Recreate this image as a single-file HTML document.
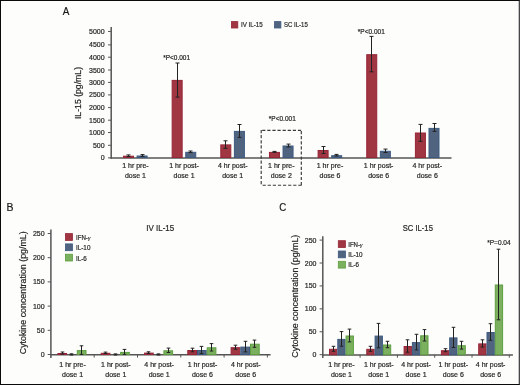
<!DOCTYPE html>
<html><head><meta charset="utf-8"><style>
html,body{margin:0;padding:0;background:#fdfdfb;}
body{width:520px;height:385px;overflow:hidden;position:relative;}
svg{position:absolute;left:0;top:0;font-family:"Liberation Sans", sans-serif;will-change:transform;}
text{stroke:#262626;stroke-width:0.2px;}
#frame{position:absolute;left:0;top:0;width:520px;height:385px;box-sizing:border-box;border-top:1px solid #0a0a0a;border-left:1px solid #0a0a0a;border-bottom:1px solid #0a0a0a;border-right:1px solid #474747;}
#fr2{position:absolute;left:518px;top:1px;width:1px;height:383px;background:#c4c4c4;}
</style></head><body>
<svg width="520" height="385" viewBox="0 0 520 385">
<line x1="111.20" y1="27.00" x2="111.20" y2="158.70" stroke="#555555" stroke-width="1.5"/>
<line x1="108.00" y1="157.90" x2="111.20" y2="157.90" stroke="#555555" stroke-width="1.0"/>
<text x="104.60" y="160.40" font-size="7" text-anchor="end" fill="#262626">0</text>
<line x1="108.00" y1="145.30" x2="111.20" y2="145.30" stroke="#555555" stroke-width="1.0"/>
<text x="104.60" y="147.80" font-size="7" text-anchor="end" fill="#262626">500</text>
<line x1="108.00" y1="132.50" x2="111.20" y2="132.50" stroke="#555555" stroke-width="1.0"/>
<text x="104.60" y="135.00" font-size="7" text-anchor="end" fill="#262626">1000</text>
<line x1="108.00" y1="120.20" x2="111.20" y2="120.20" stroke="#555555" stroke-width="1.0"/>
<text x="104.60" y="122.70" font-size="7" text-anchor="end" fill="#262626">1500</text>
<line x1="108.00" y1="107.60" x2="111.20" y2="107.60" stroke="#555555" stroke-width="1.0"/>
<text x="104.60" y="110.10" font-size="7" text-anchor="end" fill="#262626">2000</text>
<line x1="108.00" y1="94.90" x2="111.20" y2="94.90" stroke="#555555" stroke-width="1.0"/>
<text x="104.60" y="97.40" font-size="7" text-anchor="end" fill="#262626">2500</text>
<line x1="108.00" y1="82.40" x2="111.20" y2="82.40" stroke="#555555" stroke-width="1.0"/>
<text x="104.60" y="84.90" font-size="7" text-anchor="end" fill="#262626">3000</text>
<line x1="108.00" y1="70.00" x2="111.20" y2="70.00" stroke="#555555" stroke-width="1.0"/>
<text x="104.60" y="72.50" font-size="7" text-anchor="end" fill="#262626">3500</text>
<line x1="108.00" y1="57.20" x2="111.20" y2="57.20" stroke="#555555" stroke-width="1.0"/>
<text x="104.60" y="59.70" font-size="7" text-anchor="end" fill="#262626">4000</text>
<line x1="108.00" y1="44.90" x2="111.20" y2="44.90" stroke="#555555" stroke-width="1.0"/>
<text x="104.60" y="47.40" font-size="7" text-anchor="end" fill="#262626">4500</text>
<line x1="108.00" y1="31.45" x2="111.20" y2="31.45" stroke="#555555" stroke-width="1.0"/>
<text x="104.60" y="33.95" font-size="7" text-anchor="end" fill="#262626">5000</text>
<line x1="110.50" y1="158.00" x2="451.50" y2="158.00" stroke="#555555" stroke-width="1.5"/>
<rect x="123.50" y="156.20" width="10.00" height="1.30" fill="#a03642" stroke="#962538" stroke-width="1"/>
<rect x="137.10" y="156.00" width="10.00" height="1.50" fill="#506480" stroke="#3d5a82" stroke-width="1"/>
<line x1="128.50" y1="154.90" x2="128.50" y2="156.50" stroke="#222222" stroke-width="1.0"/>
<line x1="126.50" y1="154.90" x2="130.50" y2="154.90" stroke="#222222" stroke-width="1.0"/>
<line x1="126.50" y1="156.50" x2="130.50" y2="156.50" stroke="#222222" stroke-width="1.0"/>
<line x1="142.50" y1="154.60" x2="142.50" y2="156.40" stroke="#222222" stroke-width="1.0"/>
<line x1="140.50" y1="154.60" x2="144.50" y2="154.60" stroke="#222222" stroke-width="1.0"/>
<line x1="140.50" y1="156.40" x2="144.50" y2="156.40" stroke="#222222" stroke-width="1.0"/>
<rect x="172.15" y="80.40" width="10.00" height="77.10" fill="#a03642" stroke="#962538" stroke-width="1"/>
<rect x="185.75" y="152.30" width="10.00" height="5.20" fill="#506480" stroke="#3d5a82" stroke-width="1"/>
<line x1="177.50" y1="63.00" x2="177.50" y2="97.10" stroke="#222222" stroke-width="1.0"/>
<line x1="175.50" y1="63.00" x2="179.50" y2="63.00" stroke="#222222" stroke-width="1.0"/>
<line x1="175.50" y1="97.10" x2="179.50" y2="97.10" stroke="#222222" stroke-width="1.0"/>
<line x1="190.50" y1="151.00" x2="190.50" y2="152.60" stroke="#222222" stroke-width="1.0"/>
<line x1="188.50" y1="151.00" x2="192.50" y2="151.00" stroke="#222222" stroke-width="1.0"/>
<line x1="188.50" y1="152.60" x2="192.50" y2="152.60" stroke="#222222" stroke-width="1.0"/>
<rect x="220.80" y="144.90" width="10.00" height="12.60" fill="#a03642" stroke="#962538" stroke-width="1"/>
<rect x="234.40" y="131.40" width="10.00" height="26.10" fill="#506480" stroke="#3d5a82" stroke-width="1"/>
<line x1="225.50" y1="140.80" x2="225.50" y2="148.30" stroke="#222222" stroke-width="1.0"/>
<line x1="223.50" y1="140.80" x2="227.50" y2="140.80" stroke="#222222" stroke-width="1.0"/>
<line x1="223.50" y1="148.30" x2="227.50" y2="148.30" stroke="#222222" stroke-width="1.0"/>
<line x1="239.50" y1="124.50" x2="239.50" y2="137.40" stroke="#222222" stroke-width="1.0"/>
<line x1="237.50" y1="124.50" x2="241.50" y2="124.50" stroke="#222222" stroke-width="1.0"/>
<line x1="237.50" y1="137.40" x2="241.50" y2="137.40" stroke="#222222" stroke-width="1.0"/>
<rect x="269.45" y="152.40" width="10.00" height="5.10" fill="#a03642" stroke="#962538" stroke-width="1"/>
<rect x="283.05" y="146.00" width="10.00" height="11.50" fill="#506480" stroke="#3d5a82" stroke-width="1"/>
<line x1="274.50" y1="151.40" x2="274.50" y2="152.40" stroke="#222222" stroke-width="1.0"/>
<line x1="272.50" y1="151.40" x2="276.50" y2="151.40" stroke="#222222" stroke-width="1.0"/>
<line x1="272.50" y1="152.40" x2="276.50" y2="152.40" stroke="#222222" stroke-width="1.0"/>
<line x1="288.50" y1="144.10" x2="288.50" y2="147.00" stroke="#222222" stroke-width="1.0"/>
<line x1="286.50" y1="144.10" x2="290.50" y2="144.10" stroke="#222222" stroke-width="1.0"/>
<line x1="286.50" y1="147.00" x2="290.50" y2="147.00" stroke="#222222" stroke-width="1.0"/>
<rect x="318.10" y="150.50" width="10.00" height="7.00" fill="#a03642" stroke="#962538" stroke-width="1"/>
<rect x="331.70" y="155.70" width="10.00" height="1.80" fill="#506480" stroke="#3d5a82" stroke-width="1"/>
<line x1="323.50" y1="146.50" x2="323.50" y2="153.50" stroke="#222222" stroke-width="1.0"/>
<line x1="321.50" y1="146.50" x2="325.50" y2="146.50" stroke="#222222" stroke-width="1.0"/>
<line x1="321.50" y1="153.50" x2="325.50" y2="153.50" stroke="#222222" stroke-width="1.0"/>
<line x1="336.50" y1="154.40" x2="336.50" y2="156.00" stroke="#222222" stroke-width="1.0"/>
<line x1="334.50" y1="154.40" x2="338.50" y2="154.40" stroke="#222222" stroke-width="1.0"/>
<line x1="334.50" y1="156.00" x2="338.50" y2="156.00" stroke="#222222" stroke-width="1.0"/>
<rect x="366.75" y="54.70" width="10.00" height="102.80" fill="#a03642" stroke="#962538" stroke-width="1"/>
<rect x="380.35" y="151.30" width="10.00" height="6.20" fill="#506480" stroke="#3d5a82" stroke-width="1"/>
<line x1="371.50" y1="36.40" x2="371.50" y2="71.80" stroke="#222222" stroke-width="1.0"/>
<line x1="369.50" y1="36.40" x2="373.50" y2="36.40" stroke="#222222" stroke-width="1.0"/>
<line x1="369.50" y1="71.80" x2="373.50" y2="71.80" stroke="#222222" stroke-width="1.0"/>
<line x1="385.50" y1="149.10" x2="385.50" y2="152.50" stroke="#222222" stroke-width="1.0"/>
<line x1="383.50" y1="149.10" x2="387.50" y2="149.10" stroke="#222222" stroke-width="1.0"/>
<line x1="383.50" y1="152.50" x2="387.50" y2="152.50" stroke="#222222" stroke-width="1.0"/>
<rect x="415.40" y="133.00" width="10.00" height="24.50" fill="#a03642" stroke="#962538" stroke-width="1"/>
<rect x="429.00" y="128.40" width="10.00" height="29.10" fill="#506480" stroke="#3d5a82" stroke-width="1"/>
<line x1="420.50" y1="124.40" x2="420.50" y2="141.30" stroke="#222222" stroke-width="1.0"/>
<line x1="418.50" y1="124.40" x2="422.50" y2="124.40" stroke="#222222" stroke-width="1.0"/>
<line x1="418.50" y1="141.30" x2="422.50" y2="141.30" stroke="#222222" stroke-width="1.0"/>
<line x1="434.50" y1="123.50" x2="434.50" y2="131.40" stroke="#222222" stroke-width="1.0"/>
<line x1="432.50" y1="123.50" x2="436.50" y2="123.50" stroke="#222222" stroke-width="1.0"/>
<line x1="432.50" y1="131.40" x2="436.50" y2="131.40" stroke="#222222" stroke-width="1.0"/>
<text x="135.40" y="168.10" font-size="7" text-anchor="middle" fill="#262626">1 hr pre-</text>
<text x="135.40" y="177.60" font-size="7" text-anchor="middle" fill="#262626">dose 1</text>
<text x="184.05" y="168.10" font-size="7" text-anchor="middle" fill="#262626">1 hr post-</text>
<text x="184.05" y="177.60" font-size="7" text-anchor="middle" fill="#262626">dose 1</text>
<text x="232.70" y="168.10" font-size="7" text-anchor="middle" fill="#262626">4 hr post-</text>
<text x="232.70" y="177.60" font-size="7" text-anchor="middle" fill="#262626">dose 1</text>
<text x="281.35" y="168.10" font-size="7" text-anchor="middle" fill="#262626">1 hr pre-</text>
<text x="281.35" y="177.60" font-size="7" text-anchor="middle" fill="#262626">dose 2</text>
<text x="330.00" y="168.10" font-size="7" text-anchor="middle" fill="#262626">1 hr pre-</text>
<text x="330.00" y="177.60" font-size="7" text-anchor="middle" fill="#262626">dose 6</text>
<text x="378.65" y="168.10" font-size="7" text-anchor="middle" fill="#262626">1 hr post-</text>
<text x="378.65" y="177.60" font-size="7" text-anchor="middle" fill="#262626">dose 6</text>
<text x="427.30" y="168.10" font-size="7" text-anchor="middle" fill="#262626">4 hr post-</text>
<text x="427.30" y="177.60" font-size="7" text-anchor="middle" fill="#262626">dose 6</text>
<text x="176.60" y="60.30" font-size="6.5" text-anchor="middle" fill="#262626">*P&lt;0.001</text>
<text x="282.30" y="120.80" font-size="6.5" text-anchor="middle" fill="#262626">*P&lt;0.001</text>
<text x="371.30" y="33.70" font-size="6.5" text-anchor="middle" fill="#262626">*P&lt;0.001</text>
<line x1="262.2" y1="130.3" x2="302.1" y2="130.3" stroke="#3a3a3a" stroke-width="1.15" stroke-dasharray="3.2 1.9"/>
<line x1="261.2" y1="130.0" x2="261.2" y2="185.6" stroke="#3a3a3a" stroke-width="1.15" stroke-dasharray="3.2 1.9"/>
<line x1="262.6" y1="185.2" x2="302.0" y2="185.2" stroke="#3a3a3a" stroke-width="1.15" stroke-dasharray="3.2 1.9"/>
<line x1="301.3" y1="131.0" x2="301.3" y2="185.6" stroke="#3a3a3a" stroke-width="1.15" stroke-dasharray="3.2 1.9"/>
<rect x="231.4" y="21.6" width="6.4" height="6.4" fill="#a03642" stroke="#962538" stroke-width="0.8"/>
<text x="241.00" y="27.30" font-size="7" text-anchor="start" fill="#262626" textLength="21.7" lengthAdjust="spacingAndGlyphs">IV IL-15</text>
<rect x="274.5" y="21.6" width="6.4" height="6.4" fill="#506480" stroke="#3d5a82" stroke-width="0.8"/>
<text x="284.00" y="27.30" font-size="7" text-anchor="start" fill="#262626" textLength="23.8" lengthAdjust="spacingAndGlyphs">SC IL-15</text>
<text x="62.80" y="14.80" font-size="11" text-anchor="start" fill="#111" textLength="6.6" lengthAdjust="spacingAndGlyphs">A</text>
<text transform="translate(81.4,93) rotate(-90)" x="0" y="0" font-size="8.7" text-anchor="middle" fill="#262626">IL-15 (pg/mL)</text>
<line x1="50.90" y1="229.40" x2="50.90" y2="358.00" stroke="#555555" stroke-width="1.5"/>
<line x1="47.70" y1="354.50" x2="50.90" y2="354.50" stroke="#555555" stroke-width="1.0"/>
<text x="44.60" y="357.00" font-size="7" text-anchor="end" fill="#262626">0</text>
<line x1="47.70" y1="330.30" x2="50.90" y2="330.30" stroke="#555555" stroke-width="1.0"/>
<text x="44.60" y="332.80" font-size="7" text-anchor="end" fill="#262626">50</text>
<line x1="47.70" y1="306.10" x2="50.90" y2="306.10" stroke="#555555" stroke-width="1.0"/>
<text x="44.60" y="308.60" font-size="7" text-anchor="end" fill="#262626">100</text>
<line x1="47.70" y1="281.90" x2="50.90" y2="281.90" stroke="#555555" stroke-width="1.0"/>
<text x="44.60" y="284.40" font-size="7" text-anchor="end" fill="#262626">150</text>
<line x1="47.70" y1="257.70" x2="50.90" y2="257.70" stroke="#555555" stroke-width="1.0"/>
<text x="44.60" y="260.20" font-size="7" text-anchor="end" fill="#262626">200</text>
<line x1="47.70" y1="233.50" x2="50.90" y2="233.50" stroke="#555555" stroke-width="1.0"/>
<text x="44.60" y="236.00" font-size="7" text-anchor="end" fill="#262626">250</text>
<line x1="50.40" y1="354.70" x2="270.60" y2="354.70" stroke="#555555" stroke-width="1.5"/>
<line x1="94.20" y1="354.50" x2="94.20" y2="357.50" stroke="#555555" stroke-width="1.0"/>
<line x1="137.50" y1="354.50" x2="137.50" y2="357.50" stroke="#555555" stroke-width="1.0"/>
<line x1="180.80" y1="354.50" x2="180.80" y2="357.50" stroke="#555555" stroke-width="1.0"/>
<line x1="224.10" y1="354.50" x2="224.10" y2="357.50" stroke="#555555" stroke-width="1.0"/>
<line x1="267.40" y1="354.50" x2="267.40" y2="357.50" stroke="#555555" stroke-width="1.0"/>
<rect x="57.90" y="353.50" width="8.70" height="1.00" fill="#a03642" stroke="#962538" stroke-width="1"/>
<line x1="62.50" y1="352.00" x2="62.50" y2="354.00" stroke="#222222" stroke-width="1.0"/>
<line x1="60.70" y1="352.00" x2="64.30" y2="352.00" stroke="#222222" stroke-width="1.0"/>
<line x1="60.70" y1="354.00" x2="64.30" y2="354.00" stroke="#222222" stroke-width="1.0"/>
<line x1="71.50" y1="353.80" x2="71.50" y2="355.00" stroke="#222222" stroke-width="1.0"/>
<line x1="69.70" y1="353.80" x2="73.30" y2="353.80" stroke="#222222" stroke-width="1.0"/>
<line x1="69.70" y1="355.00" x2="73.30" y2="355.00" stroke="#222222" stroke-width="1.0"/>
<rect x="77.30" y="350.60" width="8.70" height="3.90" fill="#7ab05e" stroke="#5e9e40" stroke-width="1"/>
<line x1="81.50" y1="345.80" x2="81.50" y2="354.40" stroke="#222222" stroke-width="1.0"/>
<line x1="79.70" y1="345.80" x2="83.30" y2="345.80" stroke="#222222" stroke-width="1.0"/>
<line x1="79.70" y1="354.40" x2="83.30" y2="354.40" stroke="#222222" stroke-width="1.0"/>
<rect x="101.20" y="353.30" width="8.70" height="1.20" fill="#a03642" stroke="#962538" stroke-width="1"/>
<line x1="105.50" y1="352.10" x2="105.50" y2="353.50" stroke="#222222" stroke-width="1.0"/>
<line x1="103.70" y1="352.10" x2="107.30" y2="352.10" stroke="#222222" stroke-width="1.0"/>
<line x1="103.70" y1="353.50" x2="107.30" y2="353.50" stroke="#222222" stroke-width="1.0"/>
<line x1="115.50" y1="353.90" x2="115.50" y2="355.00" stroke="#222222" stroke-width="1.0"/>
<line x1="113.70" y1="353.90" x2="117.30" y2="353.90" stroke="#222222" stroke-width="1.0"/>
<line x1="113.70" y1="355.00" x2="117.30" y2="355.00" stroke="#222222" stroke-width="1.0"/>
<rect x="120.60" y="352.40" width="8.70" height="2.10" fill="#7ab05e" stroke="#5e9e40" stroke-width="1"/>
<line x1="124.50" y1="349.40" x2="124.50" y2="354.40" stroke="#222222" stroke-width="1.0"/>
<line x1="122.70" y1="349.40" x2="126.30" y2="349.40" stroke="#222222" stroke-width="1.0"/>
<line x1="122.70" y1="354.40" x2="126.30" y2="354.40" stroke="#222222" stroke-width="1.0"/>
<rect x="144.50" y="353.10" width="8.70" height="1.40" fill="#a03642" stroke="#962538" stroke-width="1"/>
<line x1="148.50" y1="351.80" x2="148.50" y2="353.40" stroke="#222222" stroke-width="1.0"/>
<line x1="146.70" y1="351.80" x2="150.30" y2="351.80" stroke="#222222" stroke-width="1.0"/>
<line x1="146.70" y1="353.40" x2="150.30" y2="353.40" stroke="#222222" stroke-width="1.0"/>
<line x1="158.50" y1="353.90" x2="158.50" y2="355.00" stroke="#222222" stroke-width="1.0"/>
<line x1="156.70" y1="353.90" x2="160.30" y2="353.90" stroke="#222222" stroke-width="1.0"/>
<line x1="156.70" y1="355.00" x2="160.30" y2="355.00" stroke="#222222" stroke-width="1.0"/>
<rect x="163.90" y="350.80" width="8.70" height="3.70" fill="#7ab05e" stroke="#5e9e40" stroke-width="1"/>
<line x1="168.50" y1="348.10" x2="168.50" y2="352.50" stroke="#222222" stroke-width="1.0"/>
<line x1="166.70" y1="348.10" x2="170.30" y2="348.10" stroke="#222222" stroke-width="1.0"/>
<line x1="166.70" y1="352.50" x2="170.30" y2="352.50" stroke="#222222" stroke-width="1.0"/>
<rect x="187.80" y="350.50" width="8.70" height="4.00" fill="#a03642" stroke="#962538" stroke-width="1"/>
<line x1="192.50" y1="348.20" x2="192.50" y2="351.80" stroke="#222222" stroke-width="1.0"/>
<line x1="190.70" y1="348.20" x2="194.30" y2="348.20" stroke="#222222" stroke-width="1.0"/>
<line x1="190.70" y1="351.80" x2="194.30" y2="351.80" stroke="#222222" stroke-width="1.0"/>
<rect x="197.50" y="350.50" width="8.70" height="4.00" fill="#506480" stroke="#3d5a82" stroke-width="1"/>
<line x1="201.50" y1="346.40" x2="201.50" y2="353.60" stroke="#222222" stroke-width="1.0"/>
<line x1="199.70" y1="346.40" x2="203.30" y2="346.40" stroke="#222222" stroke-width="1.0"/>
<line x1="199.70" y1="353.60" x2="203.30" y2="353.60" stroke="#222222" stroke-width="1.0"/>
<rect x="207.20" y="347.80" width="8.70" height="6.70" fill="#7ab05e" stroke="#5e9e40" stroke-width="1"/>
<line x1="211.50" y1="343.60" x2="211.50" y2="351.00" stroke="#222222" stroke-width="1.0"/>
<line x1="209.70" y1="343.60" x2="213.30" y2="343.60" stroke="#222222" stroke-width="1.0"/>
<line x1="209.70" y1="351.00" x2="213.30" y2="351.00" stroke="#222222" stroke-width="1.0"/>
<rect x="231.10" y="347.70" width="8.70" height="6.80" fill="#a03642" stroke="#962538" stroke-width="1"/>
<line x1="235.50" y1="345.20" x2="235.50" y2="349.20" stroke="#222222" stroke-width="1.0"/>
<line x1="233.70" y1="345.20" x2="237.30" y2="345.20" stroke="#222222" stroke-width="1.0"/>
<line x1="233.70" y1="349.20" x2="237.30" y2="349.20" stroke="#222222" stroke-width="1.0"/>
<rect x="240.80" y="347.10" width="8.70" height="7.40" fill="#506480" stroke="#3d5a82" stroke-width="1"/>
<line x1="245.50" y1="341.30" x2="245.50" y2="351.90" stroke="#222222" stroke-width="1.0"/>
<line x1="243.70" y1="341.30" x2="247.30" y2="341.30" stroke="#222222" stroke-width="1.0"/>
<line x1="243.70" y1="351.90" x2="247.30" y2="351.90" stroke="#222222" stroke-width="1.0"/>
<rect x="250.50" y="344.20" width="8.70" height="10.30" fill="#7ab05e" stroke="#5e9e40" stroke-width="1"/>
<line x1="254.50" y1="340.10" x2="254.50" y2="347.30" stroke="#222222" stroke-width="1.0"/>
<line x1="252.70" y1="340.10" x2="256.30" y2="340.10" stroke="#222222" stroke-width="1.0"/>
<line x1="252.70" y1="347.30" x2="256.30" y2="347.30" stroke="#222222" stroke-width="1.0"/>
<text x="72.55" y="367.30" font-size="7" text-anchor="middle" fill="#262626">1 hr pre-</text>
<text x="72.55" y="377.00" font-size="7" text-anchor="middle" fill="#262626">dose 1</text>
<text x="115.85" y="367.30" font-size="7" text-anchor="middle" fill="#262626">1 hr post-</text>
<text x="115.85" y="377.00" font-size="7" text-anchor="middle" fill="#262626">dose 1</text>
<text x="159.15" y="367.30" font-size="7" text-anchor="middle" fill="#262626">4 hr post-</text>
<text x="159.15" y="377.00" font-size="7" text-anchor="middle" fill="#262626">dose 1</text>
<text x="202.45" y="367.30" font-size="7" text-anchor="middle" fill="#262626">1 hr post-</text>
<text x="202.45" y="377.00" font-size="7" text-anchor="middle" fill="#262626">dose 6</text>
<text x="245.75" y="367.30" font-size="7" text-anchor="middle" fill="#262626">4 hr post-</text>
<text x="245.75" y="377.00" font-size="7" text-anchor="middle" fill="#262626">dose 6</text>
<text x="160.25" y="230.70" font-size="8.5" text-anchor="middle" fill="#262626" textLength="27.9" lengthAdjust="spacingAndGlyphs">IV IL-15</text>
<rect x="65.40" y="233.60" width="7.1" height="6.8" fill="#a03642" stroke="#962538" stroke-width="0.8"/>
<text x="76.00" y="239.90" font-size="7" text-anchor="start" fill="#262626" textLength="14.3" lengthAdjust="spacingAndGlyphs">IFN-<tspan font-family="Liberation Serif" font-style="italic">γ</tspan></text>
<rect x="65.40" y="243.90" width="7.1" height="6.8" fill="#506480" stroke="#3d5a82" stroke-width="0.8"/>
<text x="76.00" y="250.20" font-size="7" text-anchor="start" fill="#262626" textLength="14.4" lengthAdjust="spacingAndGlyphs">IL-10</text>
<rect x="65.40" y="254.20" width="7.1" height="6.8" fill="#7ab05e" stroke="#5e9e40" stroke-width="0.8"/>
<text x="76.00" y="260.50" font-size="7" text-anchor="start" fill="#262626" textLength="10.8" lengthAdjust="spacingAndGlyphs">IL-6</text>
<text transform="translate(25.70,292.80) rotate(-90)" x="0" y="0" font-size="8.85" text-anchor="middle" fill="#262626">Cytokine concentration (pg/mL)</text>
<text x="6.40" y="210.80" font-size="11" text-anchor="start" fill="#111" textLength="7.0" lengthAdjust="spacingAndGlyphs">B</text>
<line x1="322.80" y1="236.20" x2="322.80" y2="358.00" stroke="#555555" stroke-width="1.5"/>
<line x1="319.60" y1="354.70" x2="322.80" y2="354.70" stroke="#555555" stroke-width="1.0"/>
<text x="316.50" y="357.20" font-size="7" text-anchor="end" fill="#262626">0</text>
<line x1="319.60" y1="331.78" x2="322.80" y2="331.78" stroke="#555555" stroke-width="1.0"/>
<text x="316.50" y="334.28" font-size="7" text-anchor="end" fill="#262626">50</text>
<line x1="319.60" y1="308.86" x2="322.80" y2="308.86" stroke="#555555" stroke-width="1.0"/>
<text x="316.50" y="311.36" font-size="7" text-anchor="end" fill="#262626">100</text>
<line x1="319.60" y1="285.94" x2="322.80" y2="285.94" stroke="#555555" stroke-width="1.0"/>
<text x="316.50" y="288.44" font-size="7" text-anchor="end" fill="#262626">150</text>
<line x1="319.60" y1="263.02" x2="322.80" y2="263.02" stroke="#555555" stroke-width="1.0"/>
<text x="316.50" y="265.52" font-size="7" text-anchor="end" fill="#262626">200</text>
<line x1="319.60" y1="240.10" x2="322.80" y2="240.10" stroke="#555555" stroke-width="1.0"/>
<text x="316.50" y="242.60" font-size="7" text-anchor="end" fill="#262626">250</text>
<line x1="322.30" y1="354.90" x2="512.90" y2="354.90" stroke="#555555" stroke-width="1.5"/>
<line x1="360.10" y1="354.70" x2="360.10" y2="357.70" stroke="#555555" stroke-width="1.0"/>
<line x1="397.40" y1="354.70" x2="397.40" y2="357.70" stroke="#555555" stroke-width="1.0"/>
<line x1="434.70" y1="354.70" x2="434.70" y2="357.70" stroke="#555555" stroke-width="1.0"/>
<line x1="472.00" y1="354.70" x2="472.00" y2="357.70" stroke="#555555" stroke-width="1.0"/>
<line x1="509.30" y1="354.70" x2="509.30" y2="357.70" stroke="#555555" stroke-width="1.0"/>
<rect x="329.50" y="349.30" width="7.30" height="5.40" fill="#a03642" stroke="#962538" stroke-width="1"/>
<line x1="333.50" y1="346.30" x2="333.50" y2="351.30" stroke="#222222" stroke-width="1.0"/>
<line x1="331.70" y1="346.30" x2="335.30" y2="346.30" stroke="#222222" stroke-width="1.0"/>
<line x1="331.70" y1="351.30" x2="335.30" y2="351.30" stroke="#222222" stroke-width="1.0"/>
<rect x="337.80" y="339.40" width="7.30" height="15.30" fill="#506480" stroke="#3d5a82" stroke-width="1"/>
<line x1="341.50" y1="331.60" x2="341.50" y2="346.20" stroke="#222222" stroke-width="1.0"/>
<line x1="339.70" y1="331.60" x2="343.30" y2="331.60" stroke="#222222" stroke-width="1.0"/>
<line x1="339.70" y1="346.20" x2="343.30" y2="346.20" stroke="#222222" stroke-width="1.0"/>
<rect x="346.10" y="336.00" width="7.30" height="18.70" fill="#7ab05e" stroke="#5e9e40" stroke-width="1"/>
<line x1="349.50" y1="329.10" x2="349.50" y2="341.90" stroke="#222222" stroke-width="1.0"/>
<line x1="347.70" y1="329.10" x2="351.30" y2="329.10" stroke="#222222" stroke-width="1.0"/>
<line x1="347.70" y1="341.90" x2="351.30" y2="341.90" stroke="#222222" stroke-width="1.0"/>
<rect x="366.80" y="349.30" width="7.30" height="5.40" fill="#a03642" stroke="#962538" stroke-width="1"/>
<line x1="370.50" y1="346.30" x2="370.50" y2="351.30" stroke="#222222" stroke-width="1.0"/>
<line x1="368.70" y1="346.30" x2="372.30" y2="346.30" stroke="#222222" stroke-width="1.0"/>
<line x1="368.70" y1="351.30" x2="372.30" y2="351.30" stroke="#222222" stroke-width="1.0"/>
<rect x="375.10" y="336.10" width="7.30" height="18.60" fill="#506480" stroke="#3d5a82" stroke-width="1"/>
<line x1="378.50" y1="323.40" x2="378.50" y2="347.80" stroke="#222222" stroke-width="1.0"/>
<line x1="376.70" y1="323.40" x2="380.30" y2="323.40" stroke="#222222" stroke-width="1.0"/>
<line x1="376.70" y1="347.80" x2="380.30" y2="347.80" stroke="#222222" stroke-width="1.0"/>
<rect x="383.40" y="345.00" width="7.30" height="9.70" fill="#7ab05e" stroke="#5e9e40" stroke-width="1"/>
<line x1="387.50" y1="341.30" x2="387.50" y2="347.70" stroke="#222222" stroke-width="1.0"/>
<line x1="385.70" y1="341.30" x2="389.30" y2="341.30" stroke="#222222" stroke-width="1.0"/>
<line x1="385.70" y1="347.70" x2="389.30" y2="347.70" stroke="#222222" stroke-width="1.0"/>
<rect x="404.10" y="346.50" width="7.30" height="8.20" fill="#a03642" stroke="#962538" stroke-width="1"/>
<line x1="407.50" y1="339.80" x2="407.50" y2="352.20" stroke="#222222" stroke-width="1.0"/>
<line x1="405.70" y1="339.80" x2="409.30" y2="339.80" stroke="#222222" stroke-width="1.0"/>
<line x1="405.70" y1="352.20" x2="409.30" y2="352.20" stroke="#222222" stroke-width="1.0"/>
<rect x="412.40" y="342.60" width="7.30" height="12.10" fill="#506480" stroke="#3d5a82" stroke-width="1"/>
<line x1="416.50" y1="334.30" x2="416.50" y2="349.90" stroke="#222222" stroke-width="1.0"/>
<line x1="414.70" y1="334.30" x2="418.30" y2="334.30" stroke="#222222" stroke-width="1.0"/>
<line x1="414.70" y1="349.90" x2="418.30" y2="349.90" stroke="#222222" stroke-width="1.0"/>
<rect x="420.70" y="335.80" width="7.30" height="18.90" fill="#7ab05e" stroke="#5e9e40" stroke-width="1"/>
<line x1="424.50" y1="329.60" x2="424.50" y2="341.00" stroke="#222222" stroke-width="1.0"/>
<line x1="422.70" y1="329.60" x2="426.30" y2="329.60" stroke="#222222" stroke-width="1.0"/>
<line x1="422.70" y1="341.00" x2="426.30" y2="341.00" stroke="#222222" stroke-width="1.0"/>
<rect x="441.40" y="350.70" width="7.30" height="4.00" fill="#a03642" stroke="#962538" stroke-width="1"/>
<line x1="445.50" y1="348.70" x2="445.50" y2="351.70" stroke="#222222" stroke-width="1.0"/>
<line x1="443.70" y1="348.70" x2="447.30" y2="348.70" stroke="#222222" stroke-width="1.0"/>
<line x1="443.70" y1="351.70" x2="447.30" y2="351.70" stroke="#222222" stroke-width="1.0"/>
<rect x="449.70" y="337.90" width="7.30" height="16.80" fill="#506480" stroke="#3d5a82" stroke-width="1"/>
<line x1="453.50" y1="327.30" x2="453.50" y2="347.50" stroke="#222222" stroke-width="1.0"/>
<line x1="451.70" y1="327.30" x2="455.30" y2="327.30" stroke="#222222" stroke-width="1.0"/>
<line x1="451.70" y1="347.50" x2="455.30" y2="347.50" stroke="#222222" stroke-width="1.0"/>
<rect x="458.00" y="345.70" width="7.30" height="9.00" fill="#7ab05e" stroke="#5e9e40" stroke-width="1"/>
<line x1="461.50" y1="341.30" x2="461.50" y2="349.10" stroke="#222222" stroke-width="1.0"/>
<line x1="459.70" y1="341.30" x2="463.30" y2="341.30" stroke="#222222" stroke-width="1.0"/>
<line x1="459.70" y1="349.10" x2="463.30" y2="349.10" stroke="#222222" stroke-width="1.0"/>
<rect x="478.70" y="343.90" width="7.30" height="10.80" fill="#a03642" stroke="#962538" stroke-width="1"/>
<line x1="482.50" y1="339.80" x2="482.50" y2="347.00" stroke="#222222" stroke-width="1.0"/>
<line x1="480.70" y1="339.80" x2="484.30" y2="339.80" stroke="#222222" stroke-width="1.0"/>
<line x1="480.70" y1="347.00" x2="484.30" y2="347.00" stroke="#222222" stroke-width="1.0"/>
<rect x="487.00" y="332.50" width="7.30" height="22.20" fill="#506480" stroke="#3d5a82" stroke-width="1"/>
<line x1="490.50" y1="323.70" x2="490.50" y2="340.30" stroke="#222222" stroke-width="1.0"/>
<line x1="488.70" y1="323.70" x2="492.30" y2="323.70" stroke="#222222" stroke-width="1.0"/>
<line x1="488.70" y1="340.30" x2="492.30" y2="340.30" stroke="#222222" stroke-width="1.0"/>
<rect x="495.30" y="285.00" width="7.30" height="69.70" fill="#7ab05e" stroke="#5e9e40" stroke-width="1"/>
<line x1="498.50" y1="249.20" x2="498.50" y2="319.80" stroke="#222222" stroke-width="1.0"/>
<line x1="496.70" y1="249.20" x2="500.30" y2="249.20" stroke="#222222" stroke-width="1.0"/>
<line x1="496.70" y1="319.80" x2="500.30" y2="319.80" stroke="#222222" stroke-width="1.0"/>
<text x="341.45" y="367.30" font-size="7" text-anchor="middle" fill="#262626">1 hr pre-</text>
<text x="341.45" y="377.00" font-size="7" text-anchor="middle" fill="#262626">dose 1</text>
<text x="378.75" y="367.30" font-size="7" text-anchor="middle" fill="#262626">1 hr post-</text>
<text x="378.75" y="377.00" font-size="7" text-anchor="middle" fill="#262626">dose 1</text>
<text x="416.05" y="367.30" font-size="7" text-anchor="middle" fill="#262626">4 hr post-</text>
<text x="416.05" y="377.00" font-size="7" text-anchor="middle" fill="#262626">dose 1</text>
<text x="453.35" y="367.30" font-size="7" text-anchor="middle" fill="#262626">1 hr post-</text>
<text x="453.35" y="377.00" font-size="7" text-anchor="middle" fill="#262626">dose 6</text>
<text x="490.65" y="367.30" font-size="7" text-anchor="middle" fill="#262626">4 hr post-</text>
<text x="490.65" y="377.00" font-size="7" text-anchor="middle" fill="#262626">dose 6</text>
<text x="417.80" y="230.70" font-size="8.5" text-anchor="middle" fill="#262626" textLength="30.2" lengthAdjust="spacingAndGlyphs">SC IL-15</text>
<rect x="338.30" y="240.70" width="7.1" height="6.8" fill="#a03642" stroke="#962538" stroke-width="0.8"/>
<text x="348.20" y="246.50" font-size="7" text-anchor="start" fill="#262626" textLength="14.3" lengthAdjust="spacingAndGlyphs">IFN-<tspan font-family="Liberation Serif" font-style="italic">γ</tspan></text>
<rect x="338.30" y="251.00" width="7.1" height="6.8" fill="#506480" stroke="#3d5a82" stroke-width="0.8"/>
<text x="348.20" y="256.80" font-size="7" text-anchor="start" fill="#262626" textLength="14.4" lengthAdjust="spacingAndGlyphs">IL-10</text>
<rect x="338.30" y="261.30" width="7.1" height="6.8" fill="#7ab05e" stroke="#5e9e40" stroke-width="0.8"/>
<text x="348.20" y="267.10" font-size="7" text-anchor="start" fill="#262626" textLength="10.8" lengthAdjust="spacingAndGlyphs">IL-6</text>
<text transform="translate(297.60,296.20) rotate(-90)" x="0" y="0" font-size="8.85" text-anchor="middle" fill="#262626">Cytokine concentration (pg/mL)</text>
<text x="279.30" y="210.60" font-size="11" text-anchor="start" fill="#111" textLength="7.0" lengthAdjust="spacingAndGlyphs">C</text>
<text x="498.90" y="245.20" font-size="6.5" text-anchor="middle" fill="#262626">*P=0.04</text>
</svg>
<div id="fr2"></div>
<div id="frame"></div>
</body></html>
